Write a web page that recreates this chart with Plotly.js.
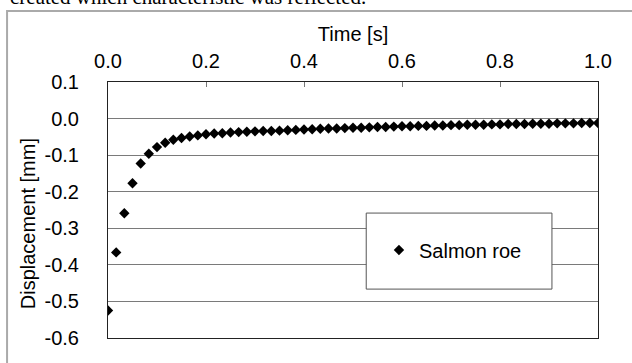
<!DOCTYPE html>
<html>
<head>
<meta charset="utf-8">
<script src="https://cdn.plot.ly/plotly-3.0.1.min.js"></script>
<style>
html,body{margin:0;padding:0;background:#fff;overflow:hidden;}
#chart{width:632px;height:363px;}
</style>
</head>
<body>
<div id="chart"></div>
<script>
const seriesName = "Salmon roe";
const timeS = [0.0000,0.0167,0.0333,0.0500,0.0667,0.0833,0.1000,0.1167,0.1333,0.1500,
  0.1667,0.1833,0.2000,0.2167,0.2333,0.2500,0.2667,0.2833,0.3000,0.3167,
  0.3333,0.3500,0.3667,0.3833,0.4000,0.4167,0.4333,0.4500,0.4667,0.4833,
  0.5000,0.5167,0.5333,0.5500,0.5667,0.5833,0.6000,0.6167,0.6333,0.6500,
  0.6667,0.6833,0.7000,0.7167,0.7333,0.7500,0.7667,0.7833,0.8000,0.8167,
  0.8333,0.8500,0.8667,0.8833,0.9000,0.9167,0.9333,0.9500,0.9667,0.9833,1.0000];
const displacementMm = [-0.525,-0.366,-0.259,-0.177,-0.123,-0.096,-0.078,-0.066,-0.058,-0.053,
  -0.049,-0.046,-0.043,-0.041,-0.040,-0.038,-0.037,-0.036,-0.035,-0.034,
  -0.034,-0.033,-0.032,-0.031,-0.030,-0.029,-0.028,-0.027,-0.027,-0.026,
  -0.025,-0.025,-0.024,-0.023,-0.023,-0.022,-0.021,-0.021,-0.020,-0.020,
  -0.019,-0.019,-0.018,-0.018,-0.017,-0.017,-0.017,-0.016,-0.016,-0.015,
  -0.015,-0.015,-0.014,-0.014,-0.014,-0.013,-0.013,-0.013,-0.012,-0.012,-0.012];
const xTickVals = [0.0,0.2,0.4,0.6,0.8,1.0];
const xTickText = ["0.0","0.2","0.4","0.6","0.8","1.0"];
const yTickVals = [0.1,0.0,-0.1,-0.2,-0.3,-0.4,-0.5,-0.6];
const yTickText = ["0.1","0.0","-0.1","-0.2","-0.3","-0.4","-0.5","-0.6"];
const xTitle = "Time [s]";
const yTitle = "Displacement [mm]";
const captionText = "created which characteristic was reflected.";

const font = "Liberation Sans, Arial, sans-serif";

const trace = {
  x: timeS, y: displacementMm, name: seriesName,
  type: "scatter", mode: "markers",
  marker: {symbol: "diamond", size: 8, color: "#000"},
  showlegend: true
};

const layout = {
  width: 632, height: 363,
  margin: {l: 108, r: 34, t: 82, b: 25},
  paper_bgcolor: "#fff", plot_bgcolor: "#fff",
  font: {family: font, size: 20, color: "#000"},
  showlegend: true,
  xaxis: {
    side: "top", range: [0, 1.0], tickvals: xTickVals, ticktext: xTickText,
    ticks: "inside", ticklen: 5, tickcolor: "#777", showgrid: false, zeroline: false,
    showline: true, mirror: true, linecolor: "#222", linewidth: 1,
    ticklabelstandoff: 5, tickfont: {size: 20},
    title: {text: xTitle, font: {size: 20}, standoff: 3}
  },
  yaxis: {
    range: [-0.6, 0.1], tickvals: yTickVals, ticktext: yTickText,
    ticks: "", showgrid: true, gridcolor: "#7a7a7a", gridwidth: 1, zeroline: false,
    showline: true, mirror: true, linecolor: "#222", linewidth: 1,
    ticklabelstandoff: 24, tickfont: {size: 20}
  },
  legend: {
    x: 0.553, y: 0.344, xanchor: "left", yanchor: "middle",
    bgcolor: "rgba(0,0,0,0)", borderwidth: 0, font: {size: 20}
  },
  shapes: [
    {type: "rect", xref: "paper", yref: "paper", x0: 0.527, x1: 0.906, y0: 0.191, y1: 0.488,
     fillcolor: "#fff", line: {color: "#555", width: 1}, layer: "above"},
    {type: "rect", xref: "paper", yref: "paper", x0: -0.206, x1: 1.2, y0: -0.2, y1: 1.277,
     fillcolor: "rgba(0,0,0,0)", line: {color: "#aaa", width: 2}, layer: "below"}
  ],
  annotations: [
    {text: captionText, xref: "paper", yref: "paper", x: -0.204, y: 1.332,
     xanchor: "left", yanchor: "middle", showarrow: false,
     font: {family: "Liberation Serif, Times New Roman, serif", size: 21, color: "#000"}},
    {text: yTitle, xref: "paper", yref: "paper", x: -0.163, y: 0.445,
     xanchor: "center", yanchor: "middle", textangle: -90, showarrow: false,
     font: {size: 20, color: "#000"}}
  ]
};

Plotly.newPlot("chart", [trace], layout, {displayModeBar: false, staticPlot: true});
</script>
</body>
</html>
